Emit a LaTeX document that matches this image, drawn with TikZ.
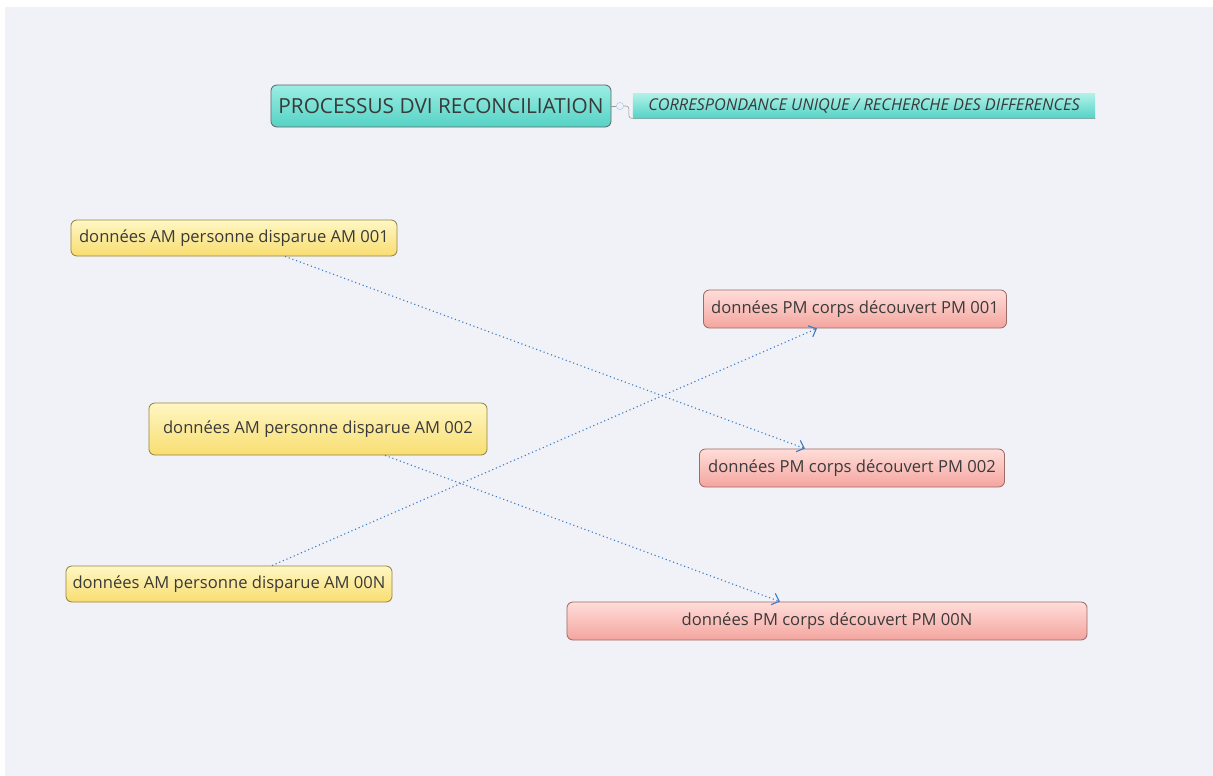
\documentclass[tikz,border=0pt]{standalone}
\usepackage{fontspec}
\setmainfont{Open Sans}
\usepackage{xcolor}
\usepackage{tikz}
\usetikzlibrary{arrows.meta}
\usetikzlibrary{positioning}

\definecolor{bgcol}{HTML}{F1F2F7}
\definecolor{txtcol}{HTML}{3A3A3A}
\definecolor{tealtop}{HTML}{9BEDE2}
\definecolor{tealbot}{HTML}{55D3C6}
\definecolor{yeltop}{HTML}{FFF7C4}
\definecolor{yelbot}{HTML}{F8DD70}
\definecolor{pinktop}{HTML}{FFDDD9}
\definecolor{pinkbot}{HTML}{F4A59F}
\definecolor{linkcol}{HTML}{3B7BCB}

\begin{document}
\begin{tikzpicture}[
  x=0.025cm, y=-0.025cm,
  every node/.style={text=txtcol, inner sep=0pt},
  topic/.style={rectangle, rounded corners=0.15cm, draw=black!45, line width=0.6pt},
  titlebox/.style={topic, top color=tealtop, bottom color=tealbot, draw=black!60,
    minimum width=8.5cm, minimum height=1.05cm, font=\fontsize{14.8}{16}\selectfont},
  notebox/.style={rectangle, top color=tealtop!80, bottom color=tealbot,
    minimum width=11.55cm, minimum height=0.6cm, font=\fontsize{11.6}{13}\itshape},
  ambox/.style={topic, top color=yeltop, bottom color=yelbot, draw=black!40!yelbot,
    minimum height=0.9cm, font=\fontsize{11.8}{13}\selectfont},
  pmbox/.style={topic, top color=pinktop, bottom color=pinkbot, draw=black!35!pinkbot,
    minimum height=0.95cm, font=\fontsize{11.8}{13}\selectfont},
  knob/.style={circle, draw=linkcol!40, fill=bgcol, minimum size=0.18cm},
  link/.style={draw=linkcol, dotted, line width=0.8pt,
    -{Straight Barb[length=1.6mm,width=3mm]}}
]
\useasboundingbox (0,0) rectangle (1213,776);
\fill[bgcol] (5,7) rectangle (1213,776);

% title and its note
\node[titlebox] (title) at (441,106) {PROCESSUS DVI RECONCILIATION};
\node[notebox] (note) at (864,106) {CORRESPONDANCE UNIQUE / RECHERCHE DES DIFFERENCES};
\node[knob] (knob) at (620,106) {};
\draw[black!40] (title.east) -- (knob);
\draw[black!40, rounded corners=2pt] (knob.east) -- ++(5,0) |- (note.south east);

% ante mortem
\node[ambox, minimum width=8.15cm] (am1) at (234,238) {données AM personne disparue AM 001};
\node[ambox, minimum width=8.45cm, minimum height=1.3cm] (am2) at (318,429) {données AM personne disparue AM 002};
\node[ambox, minimum width=8.15cm] (amn) at (229,584) {données AM personne disparue AM 00N};

% post mortem
\node[pmbox, minimum width=7.575cm] (pm1) at (855,309) {données PM corps découvert PM 001};
\node[pmbox, minimum width=7.625cm] (pm2) at (852,468) {données PM corps découvert PM 002};
\node[pmbox, minimum width=13cm] (pmn) at (827,621) {données PM corps découvert PM 00N};

% correspondances
\draw[link] ([xshift=1.275cm]am1.south) -- ([xshift=-1.175cm]pm2.north);
\draw[link] ([xshift=1.075cm]amn.north) -- ([xshift=-0.95cm]pm1.south);
\draw[link] ([xshift=1.675cm]am2.south) -- ([xshift=-1.175cm]pmn.north);
\end{tikzpicture}
\end{document}
